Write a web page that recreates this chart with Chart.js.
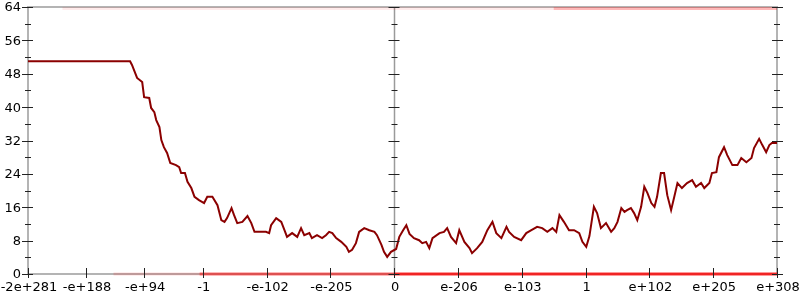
<!DOCTYPE html>
<html lang="en">
<head>
<meta charset="UTF-8">
<title>Double bit-pattern walk</title>
<script src="https://cdn.jsdelivr.net/npm/chart.js@4/dist/chart.umd.min.js"></script>
<style>
    * { margin: 0; padding: 0; box-sizing: border-box; }
    body { background: #fff; width: 800px; height: 300px; overflow: hidden; }
    #wrap { position: relative; width: 800px; height: 300px; }
</style>
</head>
<body>
<div id="wrap"><canvas id="chart"></canvas></div>
<script>
// x axis is in "bit-pattern" units: 0 is zero, 3 is 1.0, 6 is ~1e+308
const tickVals = [-5.74, -4.83, -3.92, -3, -2, -1, 0, 1, 2, 3, 4, 5, 6];
const tickLabels = ['-2e+281', '-e+188', '-e+94', '-1', '-e-102', '-e-205', '0',
    'e-206', 'e-103', '1', 'e+102', 'e+205', 'e+308'];
const yTicks = [0, 8, 16, 24, 32, 40, 48, 56, 64];

const seriesX = [
    -5.74, -4.14, -4.11, -4.03, -3.95, -3.92, -3.84, -3.81, -3.76, -3.73, -3.68, -3.65, -3.61, -3.56,
    -3.51, -3.42, -3.37, -3.34, -3.28, -3.24, -3.18, -3.13, -3.06, -2.98, -2.93, -2.85, -2.77, -2.71,
    -2.66, -2.62, -2.55, -2.51, -2.46, -2.38, -2.30, -2.24, -2.19, -2.12, -2.01, -1.96, -1.93, -1.85,
    -1.77, -1.72, -1.68, -1.60, -1.52, -1.46, -1.41, -1.33, -1.29, -1.21, -1.13, -1.07, -1.02, -0.97,
    -0.91, -0.83, -0.75, -0.71, -0.66, -0.60, -0.55, -0.47, -0.39, -0.31, -0.27, -0.20, -0.16, -0.11,
    -0.05, 0.03, 0.08, 0.14, 0.19, 0.24, 0.31, 0.39, 0.44, 0.50, 0.55, 0.60, 0.71, 0.78, 0.83, 0.89,
    0.97, 1.02, 1.10, 1.18, 1.22, 1.30, 1.38, 1.46, 1.54, 1.60, 1.68, 1.76, 1.80, 1.88, 1.99, 2.07,
    2.15, 2.24, 2.32, 2.40, 2.48, 2.54, 2.59, 2.66, 2.74, 2.82, 2.90, 2.95, 3.01, 3.06, 3.13, 3.18,
    3.24, 3.32, 3.40, 3.45, 3.50, 3.56, 3.61, 3.65, 3.71, 3.76, 3.81, 3.87, 3.92, 3.97, 4.03, 4.08,
    4.12, 4.18, 4.23, 4.28, 4.34, 4.39, 4.44, 4.51, 4.59, 4.67, 4.73, 4.81, 4.86, 4.94, 4.98, 5.05,
    5.09, 5.17, 5.22, 5.30, 5.38, 5.44, 5.52, 5.60, 5.64, 5.72, 5.77, 5.83, 5.88, 5.92, 6.0
];
const seriesY = [
    51, 51, 50.1, 47.0, 46.0, 42.4, 42.2, 39.8, 38.8, 36.9, 35.2, 32.1, 30.4, 29.0,
    26.6, 26.1, 25.6, 24.2, 24.2, 22.1, 20.6, 18.5, 17.7, 17.0, 18.5, 18.5, 16.5, 12.9,
    12.5, 13.4, 15.8, 14.1, 12.2, 12.5, 13.9, 12.2, 10.1, 10.1, 10.1, 9.8, 11.7, 13.4,
    12.5, 10.5, 8.9, 9.8, 8.9, 11.0, 9.3, 9.8, 8.6, 9.3, 8.6, 9.3, 10.1, 9.8,
    8.6, 7.7, 6.5, 5.3, 5.8, 7.4, 10.1, 11.0, 10.5, 10.1, 9.3, 7.0, 5.3, 4.1,
    5.3, 6.0, 8.9, 10.5, 11.7, 9.6, 8.6, 8.1, 7.4, 7.7, 6.2, 8.6, 9.8, 10.1, 11.0, 8.9,
    7.4, 10.5, 7.7, 6.2, 5.0, 6.2, 7.7, 10.5, 12.5, 9.8, 8.6, 11.3, 10.1, 8.9, 8.1, 9.8,
    10.5, 11.3, 11.0, 10.1, 11.0, 10.1, 14.1, 12.5, 10.5, 10.5, 9.8, 7.7, 6.5, 9.1, 16.1, 14.6,
    11.0, 12.2, 10.1, 11.0, 12.5, 15.8, 14.9, 15.3, 15.8, 14.6, 12.9, 16.1, 20.9, 19.4, 17.0, 16.1,
    18.5, 24.2, 24.2, 18.9, 15.3, 18.5, 21.8, 20.6, 21.8, 22.5, 20.9, 21.8, 20.6, 21.8, 24.2, 24.4,
    28.0, 30.4, 28.5, 26.1, 26.1, 27.8, 26.8, 27.8, 30.2, 32.4, 30.9, 29.2, 30.9, 31.4, 31.4
];

// spans where samples pile up at the limits (y = 64 overflow, y = 0 underflow)
const topFaintX = [-5.2, 6];
const topDenseX = [2.5, 6];
const bottomFaintX = [-4.4, -3.05];
const bottomMidX = [-3.05, 0];
const bottomDenseX = [0, 6];

function span(xs, yv) {
    return xs.map(v => ({ x: v, y: yv }));
}

const axesPlugin = {
    id: 'axes',
    beforeDatasetsDraw(chart) {
        const { ctx, chartArea: a, scales: { x } } = chart;
        const cx = Math.round(x.getPixelForValue(0)) + 0.5;
        ctx.save();
        ctx.strokeStyle = '#b4b4b4';
        ctx.lineWidth = 2;
        ctx.strokeRect(a.left, a.top, a.right - a.left, a.bottom - a.top);
        ctx.strokeStyle = '#9a9a9a';
        ctx.lineWidth = 1.5;
        ctx.beginPath();
        ctx.moveTo(cx, a.top);
        ctx.lineTo(cx, a.bottom);
        ctx.stroke();
        ctx.restore();
    },
    afterDatasetsDraw(chart) {
        const { ctx, chartArea: a, scales: { x, y } } = chart;
        const cx = Math.round(x.getPixelForValue(0)) + 0.5;
        ctx.save();
        ctx.strokeStyle = '#222';
        ctx.lineWidth = 1;
        ctx.beginPath();
        for (let v = 0; v <= 64; v += 4) {
            const py = Math.round(y.getPixelForValue(v)) + 0.5;
            const major = v % 8 === 0;
            const o = major ? 6 : 3;
            const i = major ? 5 : 3;
            ctx.moveTo(a.left - o, py); ctx.lineTo(a.left + i, py);
            ctx.moveTo(a.right - i, py); ctx.lineTo(a.right + o, py);
            ctx.moveTo(cx - o, py); ctx.lineTo(cx + i, py);
        }
        tickVals.forEach(v => {
            const px = Math.round(x.getPixelForValue(v)) + 0.5;
            ctx.moveTo(px, a.bottom - 6);
            ctx.lineTo(px, a.bottom + 4);
        });
        ctx.stroke();

        // tick labels
        ctx.fillStyle = '#000';
        ctx.font = '13px "DejaVu Sans"';
        ctx.textAlign = 'right';
        ctx.textBaseline = 'middle';
        yTicks.forEach(v => {
            ctx.fillText(String(v), a.left - 7, y.getPixelForValue(v) + 1);
        });
        ctx.textAlign = 'center';
        ctx.textBaseline = 'top';
        tickVals.forEach((v, k) => {
            ctx.fillText(tickLabels[k], x.getPixelForValue(v) + 1, a.bottom + 7);
        });
        ctx.restore();
    }
};

new Chart(document.getElementById('chart'), {
    type: 'scatter',
    data: {
        datasets: [
            { data: span(topFaintX, 64), showLine: true, borderColor: 'rgba(255,0,0,0.08)', borderWidth: 6, pointRadius: 0 },
            { data: span(topDenseX, 64), showLine: true, borderColor: 'rgba(255,0,0,0.22)', borderWidth: 6, pointRadius: 0 },
            { data: span(bottomFaintX, 0), showLine: true, borderColor: 'rgba(255,0,0,0.14)', borderWidth: 3, pointRadius: 0, clip: false },
            { data: span(bottomMidX, 0), showLine: true, borderColor: 'rgba(255,0,0,0.55)', borderWidth: 3, pointRadius: 0, clip: false },
            { data: span(bottomDenseX, 0), showLine: true, borderColor: 'rgba(255,0,0,0.8)', borderWidth: 3, pointRadius: 0, clip: false },
            {
                data: seriesX.map((v, k) => ({ x: v, y: seriesY[k] })),
                showLine: true, borderColor: '#8b0000', borderWidth: 2, pointRadius: 0, tension: 0
            }
        ]
    },
    options: {
        responsive: true,
        maintainAspectRatio: false,
        animation: false,
        layout: { padding: { top: 7, right: 23, left: 28, bottom: 26 } },
        plugins: { legend: { display: false }, tooltip: { enabled: false } },
        scales: {
            x: { type: 'linear', min: -5.74, max: 6, display: false },
            y: { min: 0, max: 64, display: false }
        }
    },
    plugins: [axesPlugin]
});
</script>
</body>
</html>
